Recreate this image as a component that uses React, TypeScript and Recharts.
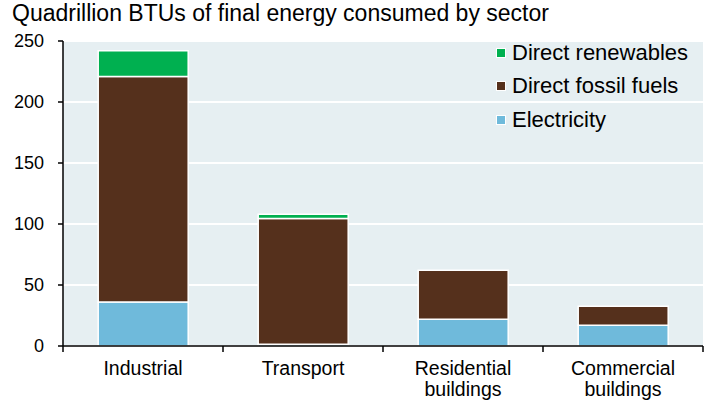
import { BarChart, Bar, XAxis, YAxis, CartesianGrid } from 'recharts';

const categories = ['Industrial', 'Transport', 'Residential buildings', 'Commercial buildings'];
const electricity = [36, 1.5, 22, 17];
const fossil = [185, 103, 40, 15.5];
const renewables = [21, 3.5, 0, 0];
const yTicks = [0, 50, 100, 150, 200, 250];

const series = [
  { key: 'electricity', name: 'Electricity', color: '#6fbadb' },
  { key: 'fossil', name: 'Direct fossil fuels', color: '#55301c' },
  { key: 'renewables', name: 'Direct renewables', color: '#00b050' },
];

const data = categories.map((name, i) => ({
  name,
  electricity: electricity[i],
  fossil: fossil[i],
  renewables: renewables[i],
}));

const FONT = 'Arial, "Liberation Sans", Helvetica, sans-serif';
const HALF_BAND = 80;

const XTick = (props: any) => {
  const { x, y, payload, index } = props;
  const words = String(payload.value).split(' ');
  return (
    <g>
      <line x1={x - HALF_BAND} x2={x - HALF_BAND} y1={y} y2={y + 6} stroke="#000" strokeWidth={1.5} />
      {index === categories.length - 1 && (
        <line x1={x + HALF_BAND} x2={x + HALF_BAND} y1={y} y2={y + 6} stroke="#000" strokeWidth={1.5} />
      )}
      <text x={x} y={y + 29} textAnchor="middle" fontSize={19.5} fill="#000" fontFamily={FONT}>
        {words.map((w, i) => (
          <tspan key={w} x={x} dy={i === 0 ? 0 : 21}>
            {w}
          </tspan>
        ))}
      </text>
    </g>
  );
};

// legend drawn as an overlay so it does not eat plot height
const LegendBox = () => (
  <div style={{ position: 'absolute', left: 496, top: 36, fontFamily: FONT, fontSize: 22, color: '#000' }}>
    {[...series].reverse().map((s) => (
      <div key={s.key} style={{ display: 'flex', alignItems: 'center', height: 33.5 }}>
        <span
          style={{
            display: 'inline-block',
            width: 8,
            height: 8,
            background: s.color,
            border: '1px solid #fff',
            marginRight: 6,
          }}
        />
        <span>{s.name}</span>
      </div>
    ))}
  </div>
);

export default function App() {
  return (
    <div style={{ position: 'absolute', left: 0, top: 0, width: 713, height: 404, background: '#fff' }}>
      <div
        style={{
          position: 'absolute',
          left: 12,
          top: 0,
          fontFamily: FONT,
          fontSize: 23,
          color: '#000',
          whiteSpace: 'nowrap',
          lineHeight: '26px',
        }}
      >
        Quadrillion BTUs of final energy consumed by sector
      </div>
      <div style={{ position: 'absolute', left: 0, top: 0 }}>
        <BarChart
          width={713}
          height={404}
          data={data}
          margin={{ top: 41, right: 10, bottom: 0, left: 0 }}
          barCategoryGap="22%"
        >
          <CartesianGrid vertical={false} stroke="#fff" strokeWidth={2} fill="#e6eff2" />
          <XAxis
            dataKey="name"
            height={58}
            tickSize={0}
            tickMargin={0}
            tickLine={false}
            axisLine={{ stroke: '#000', strokeWidth: 1.5 }}
            tick={<XTick />}
            interval={0}
          />
          <YAxis
            width={63}
            domain={[0, 250]}
            ticks={yTicks}
            tickSize={5}
            tickMargin={14}
            axisLine={{ stroke: '#000', strokeWidth: 1.5 }}
            tickLine={{ stroke: '#000', strokeWidth: 1.5 }}
            tick={{ fill: '#000', fontSize: 18, fontFamily: FONT }}
          />
          {series.map((s) => (
            <Bar
              key={s.key}
              dataKey={s.key}
              name={s.name}
              stackId="a"
              fill={s.color}
              stroke="#fff"
              strokeWidth={1.5}
              isAnimationActive={false}
            />
          ))}
        </BarChart>
      </div>
      <LegendBox />
    </div>
  );
}
